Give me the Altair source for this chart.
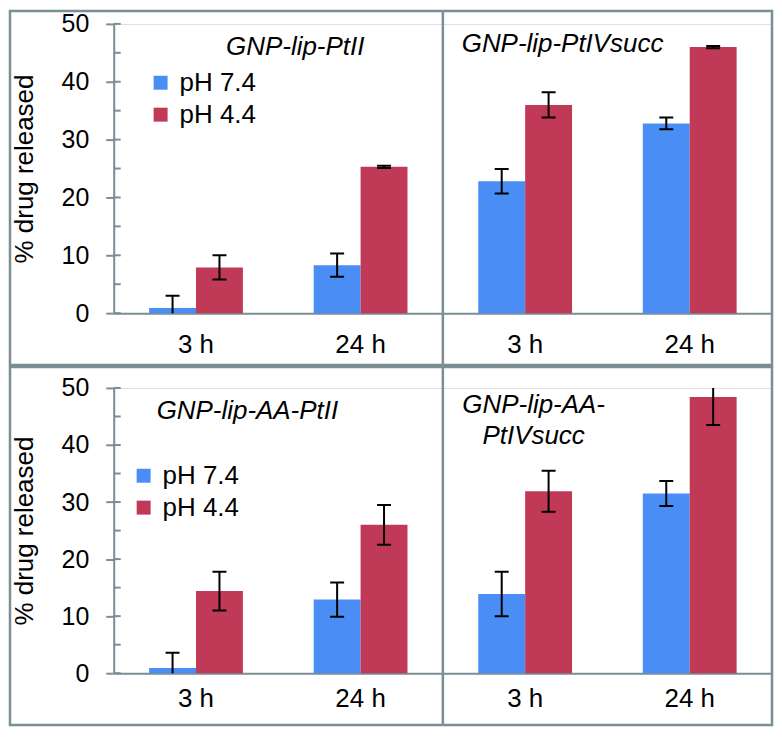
import altair as alt
import pandas as pd

# ---------------- data ----------------
times = ["3 h", "24 h"]
phs = ["pH 7.4", "pH 4.4"]
minor_ticks = [0, 5, 10, 15, 20, 25, 30, 35, 40, 45, 50]
major_ticks = [0, 10, 20, 30, 40, 50]

titles = ["GNP-lip-PtII", "GNP-lip-PtIVsucc", "GNP-lip-AA-PtII", "GNP-lip-AA-PtIVsucc"]

# means per panel: [3 h, 24 h]
ptii_74 = [0.9, 8.3]
ptii_44 = [7.9, 25.3]
ptiv_74 = [22.8, 32.8]
ptiv_44 = [36.0, 46.0]
aa_ptii_74 = [0.9, 12.9]
aa_ptii_44 = [14.4, 26.0]
aa_ptiv_74 = [13.9, 31.5]
aa_ptiv_44 = [31.9, 48.4]

# errors (±)
ptii_74_err = [2.1, 2.0]
ptii_44_err = [2.1, 0.2]
ptiv_74_err = [2.1, 1.0]
ptiv_44_err = [2.2, 0.2]
aa_ptii_74_err = [2.7, 3.0]
aa_ptii_44_err = [3.4, 3.5]
aa_ptiv_74_err = [3.9, 2.2]
aa_ptiv_44_err = [3.6, 4.9]

BLUE = "#4A8EF5"
RED = "#C03A57"
GREY = "#7A8E93"
FONT = "Liberation Sans"


def build_df(panel_series):
    recs = []
    for key, (m74, e74, m44, e44) in panel_series:
        for i, t in enumerate(times):
            recs.append({"slot": f"{key}|{t}", "ph": phs[0], "mean": m74[i], "err": e74[i]})
            recs.append({"slot": f"{key}|{t}", "ph": phs[1], "mean": m44[i], "err": e44[i]})
    return pd.DataFrame(recs)


def make_row(df, W, H, box, divider, title_specs, legend_xy, title_pad, xlab_pad):
    slot_order = [f"{k}|{t}" for k in "AB" for t in times]
    y_axis = alt.Axis(
        title="% drug released", values=major_ticks, tickSize=8, tickWidth=2,
        tickColor=GREY, domainColor=GREY, domainWidth=2, grid=False,
        labelFontSize=25, labelFont=FONT, labelColor="black", labelPadding=17,
        titleFontSize=26, titleFont=FONT, titleFontWeight="normal",
        titleColor="black", titlePadding=title_pad,
    )
    y_scale = alt.Scale(domain=[0, 50], nice=False)
    x_enc = alt.X(
        "slot:N", sort=slot_order,
        scale=alt.Scale(paddingInner=0.43, paddingOuter=0.215),
        axis=alt.Axis(title=None, labelExpr="slice(datum.label, 2)", ticks=False,
                      domainColor=GREY, domainWidth=2, labelFontSize=26,
                      labelFont=FONT, labelColor="black", labelPadding=xlab_pad,
                      labelAngle=0),
    )
    xo = alt.XOffset("ph:N", sort=phs, scale=alt.Scale(paddingInner=0, paddingOuter=0))

    base = alt.Chart(df)
    bars = base.mark_bar().encode(
        x=x_enc, xOffset=xo,
        y=alt.Y("mean:Q", scale=y_scale, axis=y_axis),
        color=alt.Color(
            "ph:N", sort=phs, scale=alt.Scale(domain=phs, range=[BLUE, RED]),
            legend=alt.Legend(orient="none", legendX=legend_xy[0], legendY=legend_xy[1],
                              title=None, symbolType="square", symbolSize=196,
                              symbolStrokeWidth=0, symbolOpacity=1, labelFontSize=26,
                              labelFont=FONT, labelColor="black", rowPadding=6,
                              labelOffset=6, padding=0),
        ),
    )
    err = base.transform_calculate(
        lo="datum.mean - datum.err", hi="datum.mean + datum.err"
    )
    rules = err.mark_rule(color="black", strokeWidth=2, clip=True).encode(
        x=x_enc, xOffset=xo,
        y=alt.Y("lo:Q", scale=y_scale, axis=y_axis), y2="hi:Q",
    )
    caps = err.transform_fold(["lo", "hi"], as_=["which", "v"]).mark_tick(
        color="black", size=14, thickness=2, clip=True, opacity=1
    ).encode(
        x=x_enc, xOffset=xo,
        y=alt.Y("v:Q", scale=y_scale, axis=y_axis),
    )
    one = pd.DataFrame({"a": [0]})
    tick_df = pd.DataFrame({"v": minor_ticks})
    minor = alt.Chart(tick_df).mark_rule(color=GREY, strokeWidth=2).encode(
        y=alt.Y("v:Q", scale=y_scale, axis=y_axis),
        x=alt.value(0), x2=alt.value(7),
    )
    div = alt.Chart(one).mark_rule(color=GREY, strokeWidth=2.5).encode(
        x=alt.value(divider), y=alt.value(box[2]), y2=alt.value(box[3])
    )
    border = alt.Chart(one).mark_rect(fillOpacity=0, stroke=GREY, strokeWidth=2.5).encode(
        x=alt.value(box[0]), x2=alt.value(box[1]), y=alt.value(box[2]), y2=alt.value(box[3])
    )
    texts = []
    for txt, tx, ty in title_specs:
        texts.append(
            alt.Chart(one).mark_text(
                text=txt, fontStyle="italic", fontSize=26, font=FONT,
                align="center", baseline="alphabetic", color="black",
            ).encode(x=alt.value(tx), y=alt.value(ty))
        )
    return alt.layer(bars, rules, caps, minor, div, border, *texts).properties(
        width=W, height=H
    )


top_df = build_df([
    ("A", (ptii_74, ptii_74_err, ptii_44, ptii_44_err)),
    ("B", (ptiv_74, ptiv_74_err, ptiv_44, ptiv_44_err)),
])
bot_df = build_df([
    ("A", (aa_ptii_74, aa_ptii_74_err, aa_ptii_44, aa_ptii_44_err)),
    ("B", (aa_ptiv_74, aa_ptiv_74_err, aa_ptiv_44, aa_ptiv_44_err)),
])

top = make_row(
    top_df, 660, 290, box=(-104, 660, -13, 342), divider=330,
    title_specs=[(titles[0], 182, 31), (titles[1], 450, 28)],
    legend_xy=(34, 46), title_pad=24, xlab_pad=18,
)
bottom = make_row(
    bot_df, 660, 286, box=(-104, 660, -21, 338), divider=330,
    title_specs=[(titles[2], 134, 31), ("GNP-lip-AA-", 421, 25), ("PtIVsucc", 421, 56)],
    legend_xy=(17, 75), title_pad=24, xlab_pad=12,
)

chart = alt.vconcat(top, bottom, spacing=75, bounds="flush").resolve_scale(
    x="independent", y="independent", color="independent", xOffset="independent"
).properties(padding=0).configure_view(stroke=None).configure(font=FONT)

chart.save("out.html", embed_options={"renderer": "svg", "actions": False})
